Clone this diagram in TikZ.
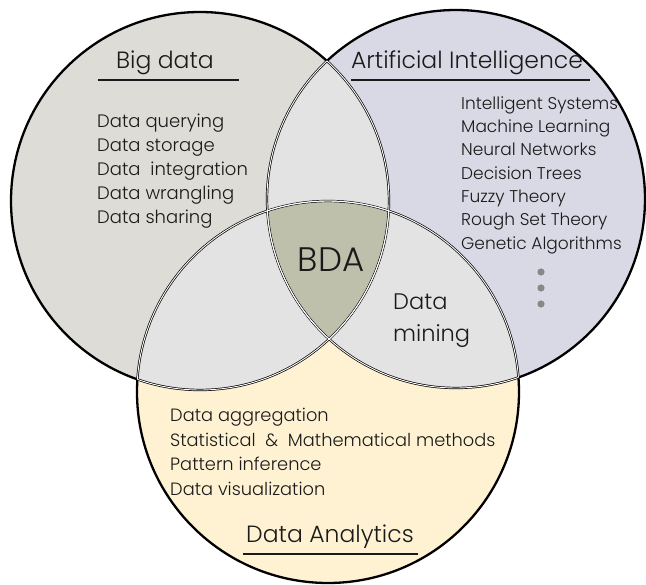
\documentclass[tikz,border=0pt]{standalone}
\usepackage{fontspec}
\setmainfont{Poppins}[UprightFont={* Light}]
\definecolor{bigc}{HTML}{DDDCD7}
\definecolor{aic}{HTML}{D9D8E5}
\definecolor{anc}{HTML}{FEF2D2}
\definecolor{interc}{HTML}{E3E3E3}
\definecolor{bdac}{HTML}{BEC0AC}
\definecolor{txt}{HTML}{1A1A1A}
\definecolor{dotc}{HTML}{888888}
\begin{document}
\begin{tikzpicture}[x=1pt,y=-1pt,
  rim/.style={draw=black,line width=2.3pt},
  gap/.style={draw=white,line width=0.9pt},
  head/.style={text=txt,font=\fontsize{23.5}{27}\selectfont,inner sep=0pt},
  items/.style={text=txt,align=left,inner sep=0pt,anchor=west},
  uline/.style={draw=txt,line width=1.3pt},
  dot/.style={fill=dotc}]
\useasboundingbox (0,0) rectangle (646,585);
\coordinate (L) at (200,201);
\coordinate (R) at (456,199);
\coordinate (B) at (328,392);
% base fills
\fill[bigc] (L) circle[radius=189pt];
\fill[aic] (R) circle[radius=189pt];
\fill[anc] (B) circle[radius=191pt];
% pairwise intersections
\begin{scope}
  \clip (L) circle[radius=189pt];
  \fill[interc] (R) circle[radius=189pt];
  \fill[interc] (B) circle[radius=191pt];
\end{scope}
\begin{scope}
  \clip (R) circle[radius=189pt];
  \fill[interc] (B) circle[radius=191pt];
\end{scope}
% triple intersection
\begin{scope}
  \clip (L) circle[radius=189pt];
  \clip (R) circle[radius=189pt];
  \fill[bdac] (B) circle[radius=191pt];
\end{scope}
% outlines
\draw[rim] (L) circle[radius=189pt];
\draw[rim] (R) circle[radius=189pt];
\draw[rim] (B) circle[radius=191pt];
% white gaps on inner boundaries
\begin{scope}\clip (R) circle[radius=189pt]; \draw[gap] (L) circle[radius=189pt]; \draw[gap] (B) circle[radius=191pt];\end{scope}
\begin{scope}\clip (L) circle[radius=189pt]; \draw[gap] (R) circle[radius=189pt]; \draw[gap] (B) circle[radius=191pt];\end{scope}
\begin{scope}\clip (B) circle[radius=191pt]; \draw[gap] (L) circle[radius=189pt]; \draw[gap] (R) circle[radius=189pt];\end{scope}
% headings
\node[head] (bdh) at (165,63) {Big data};
\draw[uline] (98,80) coordinate (bdu1) -- (239,80) coordinate (bdu2);
\node[head] (aih) at (467,63) {Artificial Intelligence};
\draw[uline] (351,80) coordinate (aiu1) -- (590,80) coordinate (aiu2);
\node[head] (anh) at (330,537) {Data Analytics};
\draw[uline] (243,554) coordinate (anu1) -- (418,554) coordinate (anu2);
% items
\node[items,font=\fontsize{18}{24}\selectfont] (bdi) at (97,171)
  {Data querying\\Data storage\\Data\ \ integration\\Data wrangling\\Data sharing};
\node[items,font=\fontsize{17}{23.3}\selectfont] (aii) at (461,175)
  {Intelligent Systems\\Machine Learning\\Neural Networks\\Decision Trees\\Fuzzy Theory\\Rough Set Theory\\Genetic Algorithms};
\node[items,font=\fontsize{17.8}{24.6}\selectfont] (ani) at (170,452)
  {Data aggregation\\Statistical\ \ \&\ \ Mathematical methods\\Pattern inference\\Data visualization};
% centre labels
\node[text=txt,font=\fontsize{34}{36}\selectfont,inner sep=0pt] (bda) at (331,260) {BDA};
\node[text=txt,font=\fontsize{22.5}{32}\selectfont,align=left,inner sep=0pt,anchor=west] (dm) at (393,321) {Data\\mining};
% dots
\fill[dot] (541,272) circle[radius=3.6pt] coordinate (d1);
\fill[dot] (541,288) circle[radius=3.6pt] coordinate (d2);
\fill[dot] (541,304) circle[radius=3.6pt] coordinate (d3);
\end{tikzpicture}
\end{document}
